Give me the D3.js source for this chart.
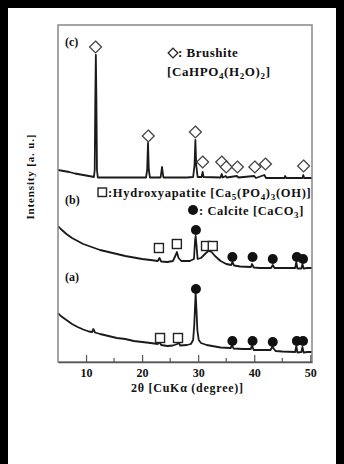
<!DOCTYPE html>
<meta charset="utf-8">
<style>
body { margin: 0; background: #fff; }
svg { display: block; }
text { font-family: "Liberation Serif", "Times New Roman", serif; font-weight: bold; fill: #111; }
.curve { fill: none; stroke: #1a1a1a; stroke-width: 1.8; stroke-linejoin: round; }
</style>
<body>
<svg id="chart" width="344" height="464"></svg>
<script src="https://d3js.org/d3.v7.min.js"></script>
<script>

// XRD patterns: [2theta (deg), intensity (a.u.)]
var patternC = [[5.0,192],[6,191],[7,190],[8,188.5],[9,187.5],[10,186.5],[11,185.5],[11.4,185],[11.55,192],[11.65,262],[11.75,307],[11.85,262],[11.95,192],[12.1,184.5],[13,184.5],[15,184.5],[17,184.5],[19,184.5],[20.7,184.5],[20.9,192],[21.05,219],[21.2,192],[21.4,184.5],[23.3,184.5],[23.55,195],[23.8,184.5],[26,184.5],[28,184.5],[29.1,185],[29.35,197],[29.5,222],[29.65,197],[29.9,185],[30.6,185],[30.8,190],[30.95,185],[34.0,184.5],[34.2,188],[34.4,184.5],[34.9,186],[35.1,184.5],[36.9,186],[37.2,184.5],[40.0,186],[40.3,184],[41.8,187],[42.1,184],[45.4,184],[45.5,186],[45.7,184],[48.6,184],[48.75,187],[48.9,184],[50.3,184]];

var patternB = [[5.0,136],[5.5,133],[6.5,128],[7.5,124],[8.5,121],[9.5,118],[10.5,116],[11.5,114],[12.5,112],[14,110],[15.5,108],[17,106],[18.5,104.5],[20,103],[21.5,102],[22.8,101],[23.1,104],[23.4,100.5],[24.5,100],[25.5,101],[26.0,107],[26.2,110],[26.5,104],[27,101],[28.5,101],[29.25,103],[29.45,122],[29.55,126],[29.7,117],[29.9,103],[30.5,104],[31.2,108],[31.8,111],[32.4,110],[33,106],[34,101],[35,98],[35.9,97],[36.1,100],[36.4,96.5],[37.5,95.5],[39.4,95],[39.6,98],[39.9,94.5],[41,94],[43.0,94],[43.3,97],[43.6,94],[45,94],[47.3,94],[47.5,100],[47.7,93.5],[48.4,93.5],[48.6,98],[48.8,93.5],[49.5,94],[50.3,94]];

var patternA = [[5.0,49],[5.5,46],[6.5,42],[7.5,38],[8.5,35],[9.5,32.5],[10.5,30.5],[11.1,30],[11.3,33],[11.6,29.5],[12.5,28],[14,26],[15.5,24],[17,23],[18.5,21],[20,20],[21.5,19],[22.8,18],[23.1,20],[23.4,17],[24.5,16],[25.5,16.5],[26.3,18],[26.5,20],[26.8,16.5],[28,17],[28.7,18],[29.1,22],[29.3,37],[29.45,57],[29.55,69],[29.7,52],[29.85,32],[30.1,22],[30.5,19],[31.5,17],[32.5,16],[34,14.5],[35.8,14],[36.05,17],[36.3,13.5],[38,13],[39.4,13],[39.6,17],[39.9,12],[41,12],[42.9,12],[43.2,15],[43.4,14],[43.8,11],[45,10.5],[47.3,10],[47.5,16],[47.7,9.5],[48.4,10],[48.6,15],[48.8,9.5],[49.5,10],[50.3,10]];

// phase markers: [2theta, intensity]
var brushiteC = [[11.7,314],[21.1,225],[29.5,229],[30.8,199],[34.2,199],[35.0,194],[37.0,194],[40.1,194],[42.0,197],[48.8,195]];
var apatiteB = [[23.0,114],[26.2,118],[31.4,116],[32.6,116]];
var calciteB = [[29.6,132],[36.1,105],[39.7,105],[43.3,103],[47.6,105],[48.7,103]];
var apatiteA = [[23.2,24],[26.4,24]];
var calciteA = [[29.6,73],[36.1,21],[39.7,21],[43.3,20],[47.6,21],[48.7,21]];

var xTicks = [10, 20, 30, 40, 50];
var xMinor = [15, 25, 35, 45];
var patternLabels = [["(c)", 316], ["(b)", 158], ["(a)", 81]];

(function() {
var svg = d3.select("#chart");
var mLeft = 58, mRight = 312, mTop = 25, mBottom = 362;

// black scan border (left, top, right)
svg.append("rect").attr("x", 0).attr("y", 0).attr("width", 8).attr("height", 464).attr("fill", "#000");
svg.append("rect").attr("x", 0).attr("y", 0).attr("width", 344).attr("height", 8).attr("fill", "#000");
svg.append("rect").attr("x", 336).attr("y", 0).attr("width", 8).attr("height", 464).attr("fill", "#000");

var x = d3.scaleLinear().domain([5, 50.3]).range([mLeft, mRight]);
var y = d3.scaleLinear().domain([0, 337]).range([mBottom, mTop]);

var line = d3.line().x(d => x(d[0])).y(d => y(d[1]));

svg.append("defs").append("clipPath").attr("id", "clip")
   .append("rect").attr("x", mLeft).attr("y", mTop).attr("width", mRight - mLeft).attr("height", mBottom - mTop);

var plot = svg.append("g").attr("clip-path", "url(#clip)");
[patternC, patternB, patternA].forEach(function(p) {
  plot.append("path").datum(p).attr("class", "curve").attr("d", line);
});

// frame
svg.append("rect").attr("x", mLeft).attr("y", mTop).attr("width", mRight - mLeft).attr("height", mBottom - mTop)
   .attr("fill", "none").attr("stroke", "#888").attr("stroke-width", 1.5);

// x axis ticks
var axis = svg.append("g").attr("transform", "translate(0," + mBottom + ")");
axis.call(d3.axisBottom(x).tickValues(xTicks).tickSizeInner(-7).tickSizeOuter(0).tickPadding(6).tickFormat(d3.format("d")));
axis.select(".domain").attr("stroke", "#555").attr("stroke-width", 1.5);
axis.selectAll(".tick line").attr("stroke", "#555").attr("stroke-width", 1.2);
axis.selectAll(".tick text").style("font-size", "12px").attr("fill", "#111")
    .style("font-family", "'Liberation Serif', serif").style("font-weight", "bold");
axis.selectAll(".minor").data(xMinor).enter().append("line")
    .attr("x1", d => x(d)).attr("x2", d => x(d)).attr("y1", 0).attr("y2", -4)
    .attr("stroke", "#555").attr("stroke-width", 1.2);

// markers
function diamonds(data) {
  svg.append("g").selectAll("path").data(data).enter().append("path")
     .attr("d", d3.symbol(d3.symbolDiamond2, 90))
     .attr("transform", d => "translate(" + x(d[0]) + "," + (y(d[1]) - 1) + ")")
     .attr("fill", "#fff").attr("stroke", "#444").attr("stroke-width", 1.3);
}
function squares(data) {
  svg.append("g").selectAll("rect").data(data).enter().append("rect")
     .attr("x", d => x(d[0]) - 4.5).attr("y", d => y(d[1]) - 4.5)
     .attr("width", 9).attr("height", 9)
     .attr("fill", "#fff").attr("stroke", "#222").attr("stroke-width", 1.4);
}
function circles(data) {
  svg.append("g").selectAll("circle").data(data).enter().append("circle")
     .attr("cx", d => x(d[0])).attr("cy", d => y(d[1])).attr("r", 5)
     .attr("fill", "#111");
}
diamonds(brushiteC);
squares(apatiteB); squares(apatiteA);
circles(calciteB); circles(calciteA);

// pattern labels
svg.selectAll(".plabel").data(patternLabels).enter().append("text")
   .attr("x", 65).attr("y", d => y(d[1])).style("font-size", "12px").text(d => d[0]);

// axis titles
svg.append("text").attr("x", 187).attr("y", 392).attr("text-anchor", "middle")
   .style("font-size", "12px").attr("textLength", 112).text("2θ [CuKα  (degree)]");
svg.append("text").attr("transform", "translate(34,177) rotate(-90)").attr("text-anchor", "middle")
   .style("font-size", "11px").attr("textLength", 85).text("Intensity [a. u.]");

// legend: brushite
svg.append("path").attr("d", d3.symbol(d3.symbolDiamond2, 60))
   .attr("transform", "translate(173,53)").attr("fill", "#fff").attr("stroke", "#222").attr("stroke-width", 1.3);
svg.append("text").attr("x", 178).attr("y", 57).style("font-size", "13px").style("letter-spacing", "0.5px").text(": Brushite");
var t1 = svg.append("text").attr("x", 167).attr("y", 76).style("font-size", "13px").style("letter-spacing", "0.6px");
t1.append("tspan").text("[CaHPO");
t1.append("tspan").attr("dy", 3).style("font-size", "9px").text("4");
t1.append("tspan").attr("dy", -3).text("(H");
t1.append("tspan").attr("dy", 3).style("font-size", "9px").text("2");
t1.append("tspan").attr("dy", -3).text("O)");
t1.append("tspan").attr("dy", 3).style("font-size", "9px").text("2");
t1.append("tspan").attr("dy", -3).text("]");

// legend: hydroxyapatite
svg.append("rect").attr("x", 98).attr("y", 188).attr("width", 8.5).attr("height", 8.5)
   .attr("fill", "#fff").attr("stroke", "#222").attr("stroke-width", 1.4);
var t2 = svg.append("text").attr("x", 108).attr("y", 196.5).style("font-size", "12.5px").style("letter-spacing", "0.7px");
t2.append("tspan").text(":Hydroxyapatite [Ca");
t2.append("tspan").attr("dy", 3).style("font-size", "9px").text("5");
t2.append("tspan").attr("dy", -3).text("(PO");
t2.append("tspan").attr("dy", 3).style("font-size", "9px").text("4");
t2.append("tspan").attr("dy", -3).text(")");
t2.append("tspan").attr("dy", 3).style("font-size", "9px").text("3");
t2.append("tspan").attr("dy", -3).text("(OH)]");

// legend: calcite
svg.append("circle").attr("cx", 193).attr("cy", 210).attr("r", 5).attr("fill", "#111");
var t3 = svg.append("text").attr("x", 199).attr("y", 214.5).style("font-size", "12.5px").style("letter-spacing", "0.6px");
t3.append("tspan").text(": Calcite [CaCO");
t3.append("tspan").attr("dy", 3).style("font-size", "9px").text("3");
t3.append("tspan").attr("dy", -3).text("]");
})();

</script>
</body>
